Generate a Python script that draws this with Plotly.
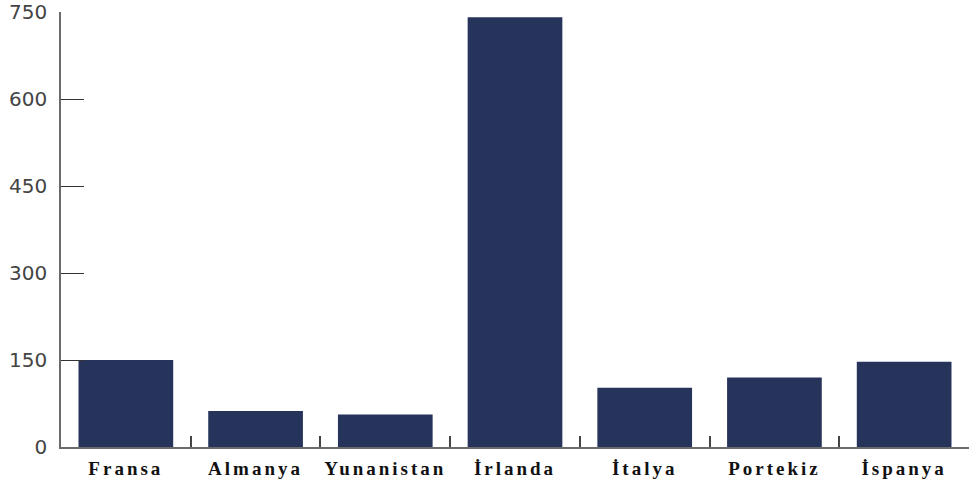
import plotly.graph_objects as go

countries = ["Fransa", "Almanya", "Yunanistan", "İrlanda", "İtalya", "Portekiz", "İspanya"]
values = [150, 62, 56, 741, 102, 120, 147]
y_ticks = [0, 150, 300, 450, 600, 750]

fig = go.Figure(go.Bar(
    x=countries, y=values,
    marker=dict(color="#26345b", line=dict(width=0)),
))

fig.update_layout(
    width=969, height=479,
    margin=dict(l=61, r=0, t=12, b=32),
    paper_bgcolor="white", plot_bgcolor="white",
    bargap=0.27,
    showlegend=False,
)
fig.update_xaxes(
    type="category", range=[-0.5, 6.5],
    showline=True, linecolor="#6b6b6b", linewidth=1.5,
    ticks="inside", tickson="boundaries", ticklen=11, tickcolor="#444", tickwidth=1.5,
    showgrid=False, zeroline=False,
    tickfont=dict(family="Liberation Serif", size=19, color="#111", weight="bold"),
    ticklabelstandoff=3,
)
fig.update_yaxes(
    range=[0, 750.05], tickvals=y_ticks, ticktext=[str(v) for v in y_ticks],
    showline=True, linecolor="#6b6b6b", linewidth=1.5,
    ticks="inside", ticklen=23, tickcolor="#333", tickwidth=1.2,
    showgrid=False, zeroline=False,
    tickfont=dict(family="DejaVu Sans", size=20, color="#444"),
    ticklabelstandoff=8,
)

post = """
var s=document.createElement('style');
s.innerHTML='.xtick text{letter-spacing:3px}';
document.head.appendChild(s);
"""
fig.write_html("out.html", post_script=post)
